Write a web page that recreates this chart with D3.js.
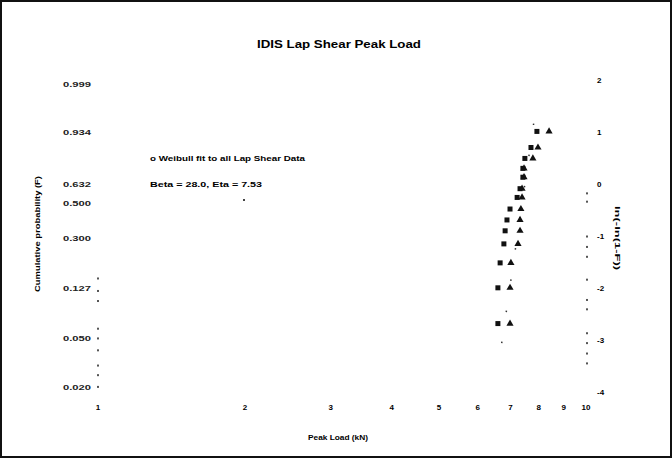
<!DOCTYPE html>
<html><head><meta charset="utf-8">
<script src="https://cdn.jsdelivr.net/npm/d3@7"></script>
<style>body{margin:0;background:#fff}svg{display:block;font-family:"Liberation Sans",Arial,sans-serif}</style>
</head><body><svg id="c" width="672" height="458"></svg>
<script>
// ---- data ----
const xTicks = [1, 2, 3, 4, 5, 6, 7, 8, 9, 10];
const rightTicks = [2, 1, 0, -1, -2, -3, -4];
const leftTickProbs = [0.999, 0.934, 0.632, 0.5, 0.3, 0.127, 0.05, 0.02];
const leftTickLabels = ["0.999", "0.934", "0.632", "0.500", "0.300", "0.127", "0.050", "0.020"];
const leftMinorProbs = [0.02, 0.025, 0.03, 0.04, 0.05, 0.06, 0.1, 0.12, 0.15];
const rightMinorW = [-0.18, -0.34, -1.01, -1.21, -1.40, -1.84, -2.23, -2.41, -2.87, -3.06, -3.26, -3.45];
const rankProbs = [0.066, 0.127, 0.197, 0.271, 0.334, 0.394, 0.461, 0.538, 0.599, 0.680, 0.741, 0.805, 0.867, 0.936];
const seriesA = [6.63, 6.63, 6.70, 6.82, 6.86, 6.92, 7.02, 7.26, 7.36, 7.46, 7.46, 7.53, 7.75, 7.97];
const seriesB = [7.02, 7.02, 7.05, 7.29, 7.36, 7.36, 7.39, 7.43, 7.43, 7.50, 7.50, 7.82, 8.01, 8.44];
const fitBeta = 28.0, fitEta = 7.53, fitRange = [6.75, 7.85];
const title = "IDIS Lap Shear Peak Load";
const xLabel = "Peak Load (kN)";
const yLabel = "Cumulative probability (F)";
const y2Label = "ln(-ln(1-F))";
const legendLines = ["o  Weibull fit to all Lap Shear Data", "Beta = 28.0,   Eta = 7.53"];

// ---- drawing ----
const svg = d3.select("#c");
const W = F => Math.log(-Math.log(1 - F));
const x = d3.scaleLog().domain([1, 10]).range([97, 585]);
const y = d3.scaleLinear().domain([-4, 2]).range([392, 80]);

svg.append("rect").attr("x", 1).attr("y", 1).attr("width", 670).attr("height", 456)
  .attr("fill", "#fff").attr("stroke", "#111").attr("stroke-width", 2);

svg.append("text").attr("x", 339).attr("y", 48).attr("text-anchor", "middle")
  .attr("font-size", 11).attr("font-weight", "bold").attr("textLength", 164)
  .attr("lengthAdjust", "spacingAndGlyphs").text(title);

// x ticks
svg.append("g").selectAll("text").data(xTicks).join("text")
  .attr("x", d => x(d) + 1).attr("y", 410).attr("text-anchor", "middle")
  .attr("font-size", 8).attr("font-weight", "bold").text(d => d);

// left ticks
svg.append("g").selectAll("text").data(leftTickProbs).join("text")
  .attr("x", 91).attr("y", d => y(W(d)) + 3).attr("text-anchor", "end")
  .attr("font-size", 8).attr("font-weight", "bold").attr("fill", "#222")
  .attr("textLength", 28).attr("lengthAdjust", "spacingAndGlyphs")
  .text((d, i) => leftTickLabels[i]);

// left minor dots
svg.append("g").selectAll("rect").data(leftMinorProbs).join("rect")
  .attr("x", 97).attr("y", d => y(W(d)) - 1).attr("width", 2).attr("height", 2).attr("fill", "#555");

// right ticks
svg.append("g").selectAll("text").data(rightTicks).join("text")
  .attr("x", 597).attr("y", d => y(d) + 3).attr("text-anchor", "start")
  .attr("font-size", 8).attr("font-weight", "bold").text(d => d);

// right minor dots
svg.append("g").selectAll("rect").data(rightMinorW).join("rect")
  .attr("x", 586).attr("y", d => y(d) - 1).attr("width", 2).attr("height", 2).attr("fill", "#555");

// axis titles
svg.append("text").attr("x", 338).attr("y", 440).attr("text-anchor", "middle")
  .attr("font-size", 8).attr("font-weight", "bold").attr("textLength", 60)
  .attr("lengthAdjust", "spacingAndGlyphs").text(xLabel);
svg.append("text").attr("transform", "translate(40,234) rotate(-90)").attr("text-anchor", "middle")
  .attr("font-size", 8).attr("font-weight", "bold").attr("textLength", 116)
  .attr("lengthAdjust", "spacingAndGlyphs").text(yLabel);
svg.append("text").attr("transform", "translate(615,238) rotate(90)").attr("text-anchor", "middle")
  .attr("font-size", 8).attr("font-weight", "bold").attr("textLength", 64)
  .attr("lengthAdjust", "spacingAndGlyphs").text(y2Label);

// legend text
svg.append("g").selectAll("text").data(legendLines).join("text")
  .attr("x", 150).attr("y", (d, i) => 161 + i * 26)
  .attr("font-size", 7.5).attr("font-weight", "bold")
  .attr("textLength", (d, i) => i === 0 ? 155 : 112).attr("lengthAdjust", "spacingAndGlyphs")
  .text(d => d);
// legend marker dot
svg.append("rect").attr("x", 243).attr("y", 199).attr("width", 2).attr("height", 2).attr("fill", "#444");

// fit line (dotted)
const fitLine = d3.line().x(d => x(d)).y(d => y(fitBeta * (Math.log(d) - Math.log(fitEta))));
svg.append("path").datum(fitRange).attr("d", fitLine).attr("fill", "none")
  .attr("stroke", "#333").attr("stroke-width", 1.5).attr("stroke-dasharray", "1.5,30");

// series A squares
svg.append("g").selectAll("rect").data(seriesA).join("rect")
  .attr("x", d => x(d) - 2.5).attr("y", (d, i) => y(W(rankProbs[i])) - 2.5)
  .attr("width", 5).attr("height", 5).attr("fill", "#111");

// series B triangles
const tri = d3.symbol().type(d3.symbolTriangle).size(22);
svg.append("g").selectAll("path").data(seriesB).join("path")
  .attr("transform", (d, i) => `translate(${x(d)},${y(W(rankProbs[i]))})`)
  .attr("d", tri).attr("fill", "#111");
</script></body></html>
